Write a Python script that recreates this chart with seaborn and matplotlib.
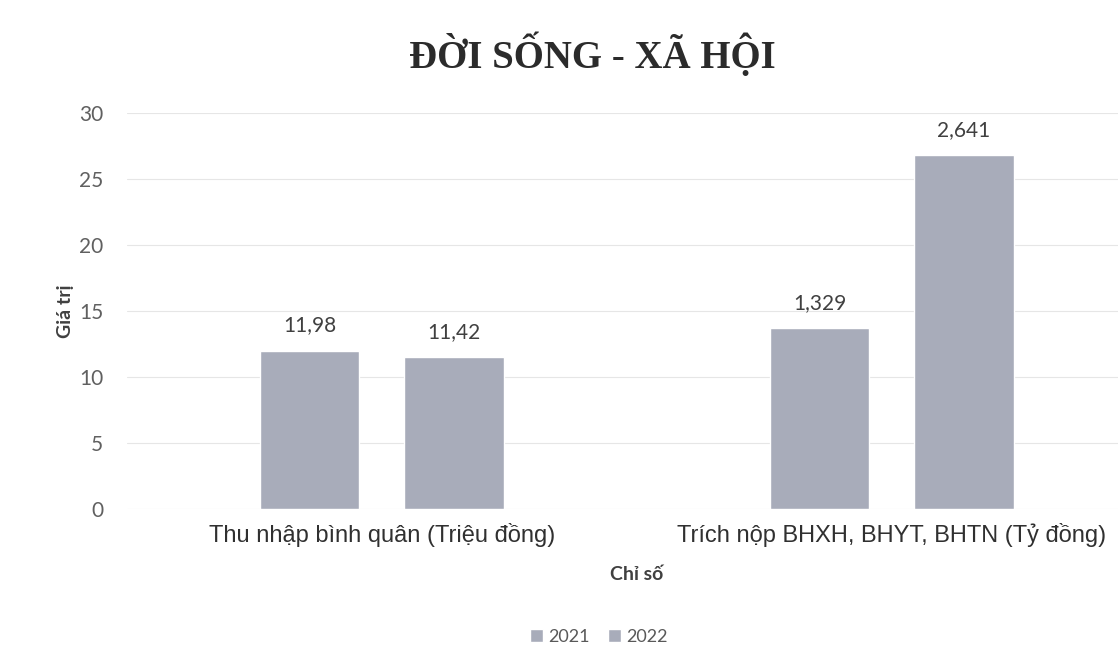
import seaborn as sns
import pandas as pd
import matplotlib.pyplot as plt

# chart data
categories = ["Thu nhập bình quân (Triệu đồng)", "Trích nộp BHXH, BHYT, BHTN (Tỷ đồng)"]
years = ["2021", "2022"]
values_2021 = [12.0, 13.7]
values_2022 = [11.5, 26.8]
labels_2021 = ["11,98", "1,329"]
labels_2022 = ["11,42", "2,641"]

df = pd.DataFrame({
    "Chỉ số": categories * 2,
    "Năm": [years[0]] * 2 + [years[1]] * 2,
    "Giá trị": values_2021 + values_2022,
    "label": labels_2021 + labels_2022,
})

sns.set_theme(style="white")
plt.rcParams['font.family'] = ['Lato', 'DejaVu Sans']

bar_color = "#a8acba"
fig = plt.figure(figsize=(11.18, 6.72), dpi=100)
ax = fig.add_axes([0.1136, 0.2426, 0.912, 0.5892])

sns.barplot(data=df, x="Chỉ số", y="Giá trị", hue="Năm",
            palette=[bar_color, bar_color], width=0.567, gap=0.3125,
            saturation=1, ax=ax, legend=True)

for container, labs in zip(ax.containers, [labels_2021, labels_2022]):
    ax.bar_label(container, labels=labs, padding=11, fontsize=15, color="#404040")

ax.set_xlim(-0.5, 1.5)
ax.set_ylim(0, 30)
ax.set_yticks(range(0, 31, 5))
ax.yaxis.grid(True, color="#e6e6e6", linewidth=0.8)
ax.set_axisbelow(True)
for s in ax.spines.values():
    s.set_visible(False)
ax.tick_params(axis="y", labelsize=15, labelcolor="#606060", pad=17, length=0)
ax.tick_params(axis="x", length=0, pad=10)
for t in ax.get_xticklabels():
    t.set_fontfamily("Liberation Sans")
    t.set_fontsize(17)
    t.set_color("#303030")

ax.set_xlabel("Chỉ số", fontsize=14, fontweight="bold", color="#404040", labelpad=14)
ax.set_ylabel("Giá trị", fontsize=14, fontweight="bold", color="#404040", labelpad=4)

fig.text(0.53, 0.918, "ĐỜI SỐNG - XÃ HỘI", ha="center", va="center",
         fontsize=28, fontweight="bold", family="Liberation Serif", color="#2b2b2b")

ax.legend(loc="center", bbox_to_anchor=(599 / 1118, 1 - 637 / 672),
          bbox_transform=fig.transFigure, ncol=2, frameon=False,
          fontsize=13, labelcolor="#595959", handlelength=0.7, handleheight=0.7,
          handletextpad=0.3, columnspacing=1.0)

fig.savefig("out.png", dpi=100)
